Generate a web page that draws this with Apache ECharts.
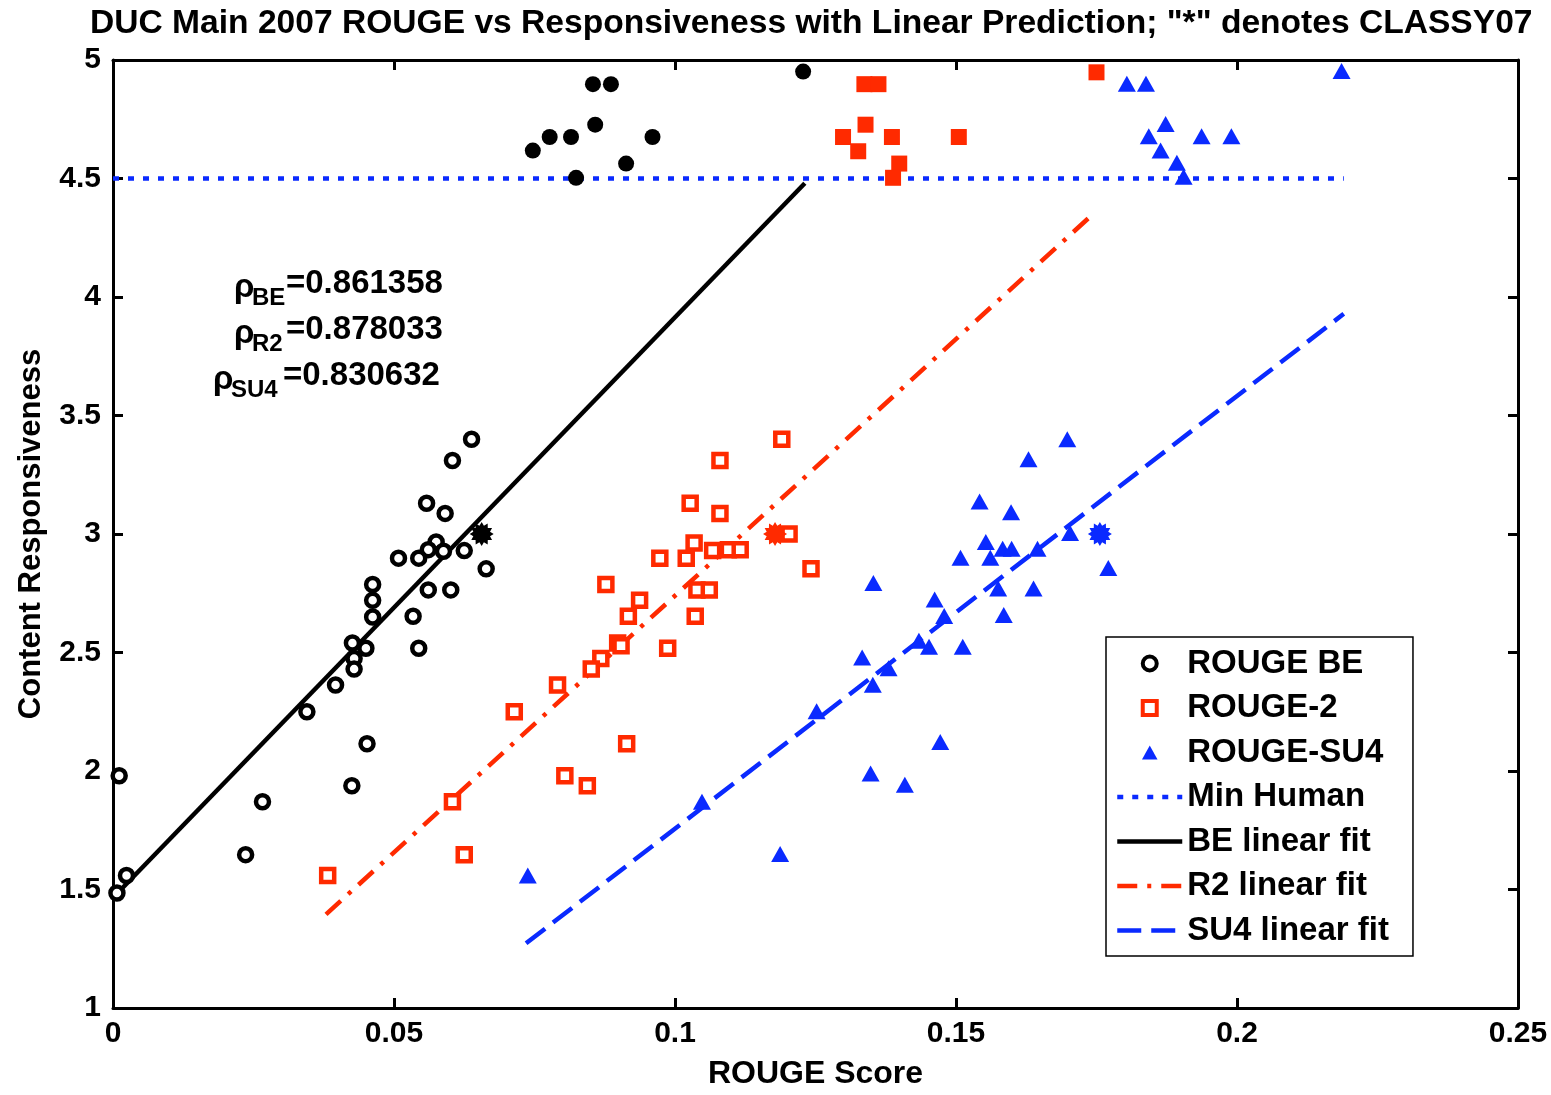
<!DOCTYPE html>
<html><head><meta charset="utf-8">
<script src="https://cdn.jsdelivr.net/npm/echarts@6/dist/echarts.min.js"></script>
<style>html,body{margin:0;padding:0;background:#fff}#c{width:1551px;height:1095px}</style>
</head><body><div id="c"></div>
<script>
// ---------- data ----------
const titleText = 'DUC Main 2007 ROUGE vs Responsiveness with Linear Prediction; "*" denotes CLASSY07';
const xName = 'ROUGE Score';
const yName = 'Content Responsiveness';
const legendNames = ['ROUGE BE', 'ROUGE-2', 'ROUGE-SU4', 'Min Human', 'BE linear fit', 'R2 linear fit', 'SU4 linear fit'];

const beSystems = [[0.0638,3.40],[0.0604,3.31],[0.0558,3.13],[0.0591,3.087],[0.0575,2.966],[0.0561,2.934],[0.0588,2.927],[0.0625,2.93],[0.0508,2.898],[0.0544,2.898],[0.0664,2.853],[0.0462,2.787],[0.0462,2.72],[0.0462,2.65],[0.0561,2.764],[0.0601,2.764],[0.0534,2.653],[0.0544,2.518],[0.0426,2.54],[0.0450,2.518],[0.0429,2.475],[0.0429,2.43],[0.0396,2.363],[0.0345,2.25],[0.0452,2.115],[0.0425,1.938],[0.0266,1.87],[0.0236,1.647],[0.0011,1.98],[0.0024,1.559],[0.0007,1.485]];
const beHumans = [[0.0747,4.618],[0.0777,4.675],[0.0815,4.675],[0.0858,4.727],[0.0854,4.898],[0.0886,4.898],[0.0913,4.563],[0.0960,4.675],[0.0824,4.503],[0.1228,4.951]];
const beClassy = [[0.0656,3.0]];

const r2Systems = [[0.1190,3.40],[0.1080,3.31],[0.1027,3.13],[0.1080,3.087],[0.1203,3.0],[0.1034,2.962],[0.1020,2.898],[0.0973,2.898],[0.1067,2.93],[0.1095,2.934],[0.1116,2.934],[0.1242,2.853],[0.0877,2.787],[0.1039,2.764],[0.1061,2.764],[0.0937,2.72],[0.0917,2.653],[0.1036,2.653],[0.0898,2.54],[0.0904,2.528],[0.0987,2.518],[0.0868,2.475],[0.0851,2.43],[0.0791,2.363],[0.0714,2.25],[0.0914,2.115],[0.0804,1.98],[0.0844,1.938],[0.0604,1.87],[0.0625,1.647],[0.0382,1.559]];
const r2Humans = [[0.1337,4.898],[0.1362,4.898],[0.1339,4.727],[0.1299,4.675],[0.1326,4.615],[0.1386,4.675],[0.1399,4.563],[0.1388,4.503],[0.1505,4.675],[0.1750,4.948]];
const r2Classy = [[0.1178,3.0]];

const su4Systems = [[0.1698,3.40],[0.1629,3.315],[0.1542,3.137],[0.1598,3.092],[0.1703,3.004],[0.1553,2.966],[0.1583,2.938],[0.1599,2.938],[0.1645,2.938],[0.1508,2.90],[0.1561,2.90],[0.1771,2.857],[0.1353,2.793],[0.1575,2.77],[0.1638,2.77],[0.1462,2.724],[0.1479,2.654],[0.1585,2.658],[0.1434,2.55],[0.1452,2.524],[0.1512,2.524],[0.1333,2.479],[0.1380,2.434],[0.1352,2.364],[0.1252,2.252],[0.1472,2.122],[0.1348,1.989],[0.1409,1.942],[0.1187,1.65],[0.1048,1.87],[0.0738,1.559]];
const su4Humans = [[0.1804,4.90],[0.1838,4.90],[0.1873,4.73],[0.1843,4.678],[0.1864,4.618],[0.1893,4.566],[0.1905,4.507],[0.1937,4.678],[0.1990,4.678],[0.2186,4.954]];
const su4Classy = [[0.1756,3.0]];

const minHuman = [[0,4.5],[0.219,4.5]];
const beFit = [[0,1.465],[0.1231,4.48]];
const r2Fit = [[0.0379,1.395],[0.1747,4.357]];
const su4Fit = [[0.0735,1.273],[0.2190,3.929]];

const rhoSubs = ['BE', 'R2', 'SU4'];
const rhoValues = ['0.861358', '0.878033', '0.830632'];

// ---------- styling ----------
const FONT = '"Liberation Sans", Arial, Helvetica, sans-serif';
const BLACK = '#000000', RED = '#ff2a00', BLUE = '#0a2aff';

function burst(n, ri) {
  let d = '';
  for (let i = 0; i < 2 * n; i++) {
    const r = i % 2 ? ri : 1;
    const a = i * Math.PI / n;
    d += (i ? 'L' : 'M') + (50 + 50 * r * Math.cos(a)).toFixed(2) + ' ' + (50 + 50 * r * Math.sin(a)).toFixed(2) + ' ';
  }
  return 'path://' + d + 'Z';
}
const STAR = burst(12, 0.72);
const SQUARE = 'path://M0,0 L10,0 L10,10 L0,10 Z';
const TRI = 'path://M5,0 L10,9 L0,9 Z';

const axisCommon = {
  type: 'value',
  axisLine: { show: true, onZero: false, lineStyle: { color: BLACK, width: 3 } },
  axisTick: { show: true, inside: true, length: 10, lineStyle: { color: BLACK, width: 3 } },
  splitLine: { show: false }
};
const labelStyle = { color: BLACK, fontFamily: FONT, fontWeight: 'bold', fontSize: 30 };

const chart = echarts.init(document.getElementById('c'), null, { renderer: 'canvas' });

const rhoGraphics = [];
const rhoRows = [284, 330, 376];
const rhoX = [[234, 252, 286], [234, 252, 286], [213, 231, 283]];
rhoSubs.forEach((s, i) => {
  const y = rhoRows[i], xs = rhoX[i];
  rhoGraphics.push({ type: 'text', x: xs[0], y: y + 4, style: { text: 'ρ', fill: BLACK, font: 'bold 33px ' + FONT, verticalAlign: 'middle', align: 'left' } });
  rhoGraphics.push({ type: 'text', x: xs[1], y: y + 14, style: { text: s, fill: BLACK, font: 'bold 24px ' + FONT, verticalAlign: 'middle', align: 'left' } });
  rhoGraphics.push({ type: 'text', x: xs[2], y: y, style: { text: '=' + rhoValues[i], fill: BLACK, font: 'bold 33px ' + FONT, verticalAlign: 'middle', align: 'left' } });
});

const hideSym = { opacity: 0 };
const legendData = legendNames.map((n, i) => i < 2 ? { name: n, itemStyle: { borderWidth: 4 } } : { name: n });

const option = {
  animation: false,
  backgroundColor: '#ffffff',
  title: {
    text: titleText, left: 90, top: 7, padding: 0,
    textStyle: { color: BLACK, fontFamily: FONT, fontWeight: 'bold', fontSize: 33.6 }
  },
  grid: { left: 113, right: 33, top: 60, bottom: 83, containLabel: false },
  xAxis: [
    Object.assign({}, axisCommon, {
      position: 'bottom', min: 0, max: 0.25, interval: 0.05,
      axisLabel: Object.assign({ margin: 11 }, labelStyle),
      name: xName, nameLocation: 'middle', nameGap: 50,
      nameTextStyle: { color: BLACK, fontFamily: FONT, fontWeight: 'bold', fontSize: 32 }
    }),
    Object.assign({}, axisCommon, { position: 'top', min: 0, max: 0.25, interval: 0.05, axisLabel: { show: false } })
  ],
  yAxis: [
    Object.assign({}, axisCommon, {
      position: 'left', min: 1, max: 5, interval: 0.5,
      axisLabel: Object.assign({ margin: 12 }, labelStyle),
      name: yName, nameLocation: 'middle', nameGap: 66,
      nameTextStyle: { color: BLACK, fontFamily: FONT, fontWeight: 'bold', fontSize: 31 }
    }),
    Object.assign({}, axisCommon, { position: 'right', min: 1, max: 5, interval: 0.5, axisLabel: { show: false } })
  ],
  legend: {
    data: legendData, orient: 'vertical', left: 1106, top: 637,
    padding: [10, 24, 9, 9], itemGap: 11.5, itemWidth: 65, itemHeight: 14,
    backgroundColor: '#ffffff', borderColor: BLACK, borderWidth: 1.5, borderRadius: 0,
    lineStyle: { width: 4.5 },
    textStyle: { color: BLACK, fontFamily: FONT, fontWeight: 'bold', fontSize: 33, lineHeight: 33 },
    selectedMode: false
  },
  graphic: rhoGraphics,
  series: [
    { name: 'Min Human', type: 'line', data: minHuman, symbol: 'none', z: 1,
      lineStyle: { color: BLUE, width: 4.5, type: [6, 9], cap: 'butt' }, itemStyle: Object.assign({ color: BLUE }, hideSym) },
    { name: 'BE linear fit', type: 'line', data: beFit, symbol: 'none', z: 1,
      lineStyle: { color: BLACK, width: 4.5, type: 'solid' }, itemStyle: Object.assign({ color: BLACK }, hideSym) },
    { name: 'R2 linear fit', type: 'line', data: r2Fit, symbol: 'none', z: 1,
      lineStyle: { color: RED, width: 4.5, type: [20, 10, 4, 10], cap: 'butt' }, itemStyle: Object.assign({ color: RED }, hideSym) },
    { name: 'SU4 linear fit', type: 'line', data: su4Fit, symbol: 'none', z: 1,
      lineStyle: { color: BLUE, width: 4.5, type: [24, 10], cap: 'butt' }, itemStyle: Object.assign({ color: BLUE }, hideSym) },
    { name: 'ROUGE BE', type: 'scatter', data: beSystems, symbol: 'circle', symbolSize: 13, z: 3,
      itemStyle: { color: '#ffffff', borderColor: BLACK, borderWidth: 4.5, opacity: 1 } },
    { name: 'ROUGE-2', type: 'scatter', data: r2Systems, symbol: SQUARE, symbolSize: 13, z: 3,
      itemStyle: { color: '#ffffff', borderColor: RED, borderWidth: 4.5, opacity: 1 } },
    { name: 'ROUGE-SU4', type: 'scatter', data: su4Systems, symbol: TRI, symbolSize: [18, 16], z: 3,
      itemStyle: { color: BLUE, opacity: 1 } },
    { name: 'BE humans', type: 'scatter', data: beHumans, symbol: 'circle', symbolSize: 16, z: 3, itemStyle: { color: BLACK, opacity: 1 } },
    { name: 'R2 humans', type: 'scatter', data: r2Humans, symbol: SQUARE, symbolSize: 16, z: 3, itemStyle: { color: RED, opacity: 1 } },
    { name: 'SU4 humans', type: 'scatter', data: su4Humans, symbol: TRI, symbolSize: [18, 16], z: 3, itemStyle: { color: BLUE, opacity: 1 } },
    { name: 'BE CLASSY07', type: 'scatter', data: beClassy, symbol: STAR, symbolSize: 24, z: 4, itemStyle: { color: BLACK, opacity: 1 } },
    { name: 'R2 CLASSY07', type: 'scatter', data: r2Classy, symbol: STAR, symbolSize: 24, z: 4, itemStyle: { color: RED, opacity: 1 } },
    { name: 'SU4 CLASSY07', type: 'scatter', data: su4Classy, symbol: STAR, symbolSize: 24, z: 4, itemStyle: { color: BLUE, opacity: 1 } }
  ]
};
chart.setOption(option);
</script>
</body></html>
